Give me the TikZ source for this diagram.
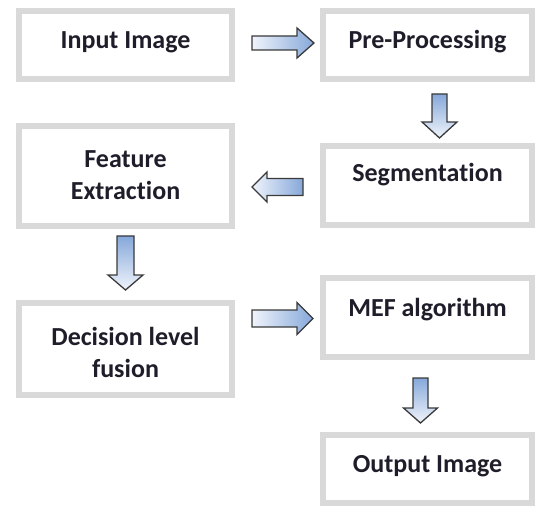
\documentclass[tikz,border=0pt]{standalone}
\usepackage{fontspec}
\setmainfont{Carlito}[Ligatures=NoCommon]
\definecolor{boxgray}{HTML}{D9D9D9}
\definecolor{txt}{HTML}{1E1E2A}
\definecolor{arrline}{HTML}{3A3A3A}
\definecolor{arrlight}{HTML}{F0F4FB}
\definecolor{arrblue}{HTML}{86A8DA}
\newcommand\RArr[6]{% x0 x1 cy shaft-half head-half head-len
  \shade[arrshape,left color=arrlight,right color=arrblue]
   (#1,#3-#4) -- (#2-#6,#3-#4) -- (#2-#6,#3-#5) -- (#2,#3) -- (#2-#6,#3+#5) -- (#2-#6,#3+#4) -- (#1,#3+#4) -- cycle;}
\newcommand\LArr[6]{% tip-x end-x cy shaft-half head-half head-len
  \shade[arrshape,left color=arrlight,right color=arrblue]
   (#1,#3) -- (#1+#6,#3-#5) -- (#1+#6,#3-#4) -- (#2,#3-#4) -- (#2,#3+#4) -- (#1+#6,#3+#4) -- (#1+#6,#3+#5) -- cycle;}
\newcommand\DArr[6]{% cx y0 y1 shaft-half head-half head-len
  \shade[arrshape,top color=arrblue,bottom color=arrlight]
   (#1-#4,#2) -- (#1+#4,#2) -- (#1+#4,#3-#6) -- (#1+#5,#3-#6) -- (#1,#3) -- (#1-#5,#3-#6) -- (#1-#4,#3-#6) -- cycle;}
\begin{document}
\begin{tikzpicture}[x=1pt,y=-1pt,
  box/.style={draw=boxgray,line width=6pt,fill=white,rectangle,inner sep=0pt},
  lbl/.style={font=\bfseries\fontsize{26}{32}\selectfont,text=txt,align=center,inner sep=0pt,text height=18pt,text depth=5pt},
  arrshape/.style={draw=arrline,line width=1.3pt,line join=miter}]
\useasboundingbox (0,0) rectangle (536,508);
% boxes
\node[box,minimum width=213pt,minimum height=68pt] (in)  at (125.5,45) {};
\node[box,minimum width=209pt,minimum height=68pt] (pre) at (427.5,45) {};
\node[box,minimum width=209pt,minimum height=79pt] (seg) at (427.5,185.5) {};
\node[box,minimum width=213pt,minimum height=100pt] (fe) at (125.5,176) {};
\node[box,minimum width=213pt,minimum height=92pt] (dec) at (125.5,349) {};
\node[box,minimum width=209pt,minimum height=79pt] (mef) at (427.5,317.5) {};
\node[box,minimum width=209pt,minimum height=68pt] (out) at (427.5,469) {};
% labels
\node[lbl] (tin)  at (125.5,42) {Input Image};
\node[lbl] (tpre) at (427.5,42) {Pre-Processing};
\node[lbl] (tseg) at (427.5,175) {Segmentation};
\node[lbl] (tfe)  at (125.5,193) {Feature\\Extraction};
\node[lbl] (tdec) at (125.5,371) {Decision level\\fusion};
\node[lbl] (tmef) at (427.5,310) {MEF algorithm};
\node[lbl] (tout) at (427.5,466) {Output Image};
% block arrows
\RArr{252}{314}{43}{7}{15}{17}
\DArr{439.5}{94}{138}{7.5}{17.5}{16}
\LArr{252}{303}{187}{8.5}{15}{15}
\DArr{125.5}{236}{290}{8.5}{17.5}{15}
\RArr{252}{313}{318.5}{8.5}{16}{16}
\DArr{420.5}{378}{423}{7.5}{17}{15}
\end{tikzpicture}
\end{document}
